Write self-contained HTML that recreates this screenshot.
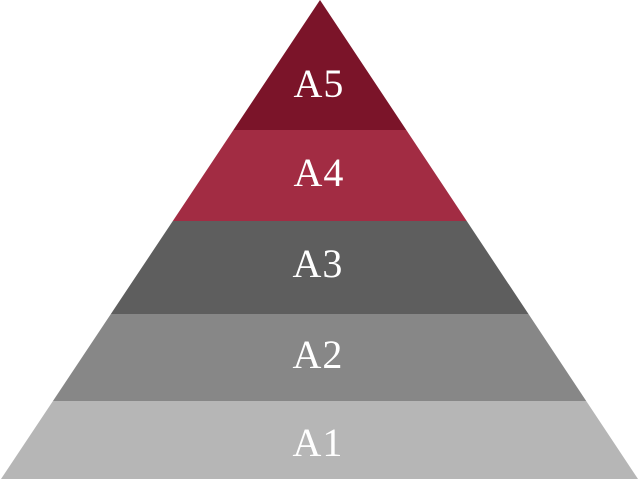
<!DOCTYPE html>
<html><head><style>html,body{margin:0;padding:0;background:#fff;}svg{display:block}
text{font-family:"Liberation Serif","Times New Roman",serif;font-size:40px;fill:#fff;}</style></head>
<body>
<svg width="640" height="480" xmlns="http://www.w3.org/2000/svg">
<defs><clipPath id="c"><polygon points="320,0 1,479 638,479"/></clipPath></defs>
<g clip-path="url(#c)">
<rect x="0" y="0" width="640" height="130" fill="#7b1429"/>
<rect x="0" y="130" width="640" height="91" fill="#a22c43"/>
<rect x="0" y="221" width="640" height="93" fill="#5e5e5e"/>
<rect x="0" y="314" width="640" height="87" fill="#878787"/>
<rect x="0" y="401" width="640" height="79" fill="#b6b6b6"/>
</g>
<g text-anchor="middle" letter-spacing="1">
<text x="319" y="97">A5</text>
<text x="319" y="186">A4</text>
<text x="318" y="277">A3</text>
<text x="318" y="368">A2</text>
<text x="318" y="456">A1</text>
</g>
</svg>
</body></html>
